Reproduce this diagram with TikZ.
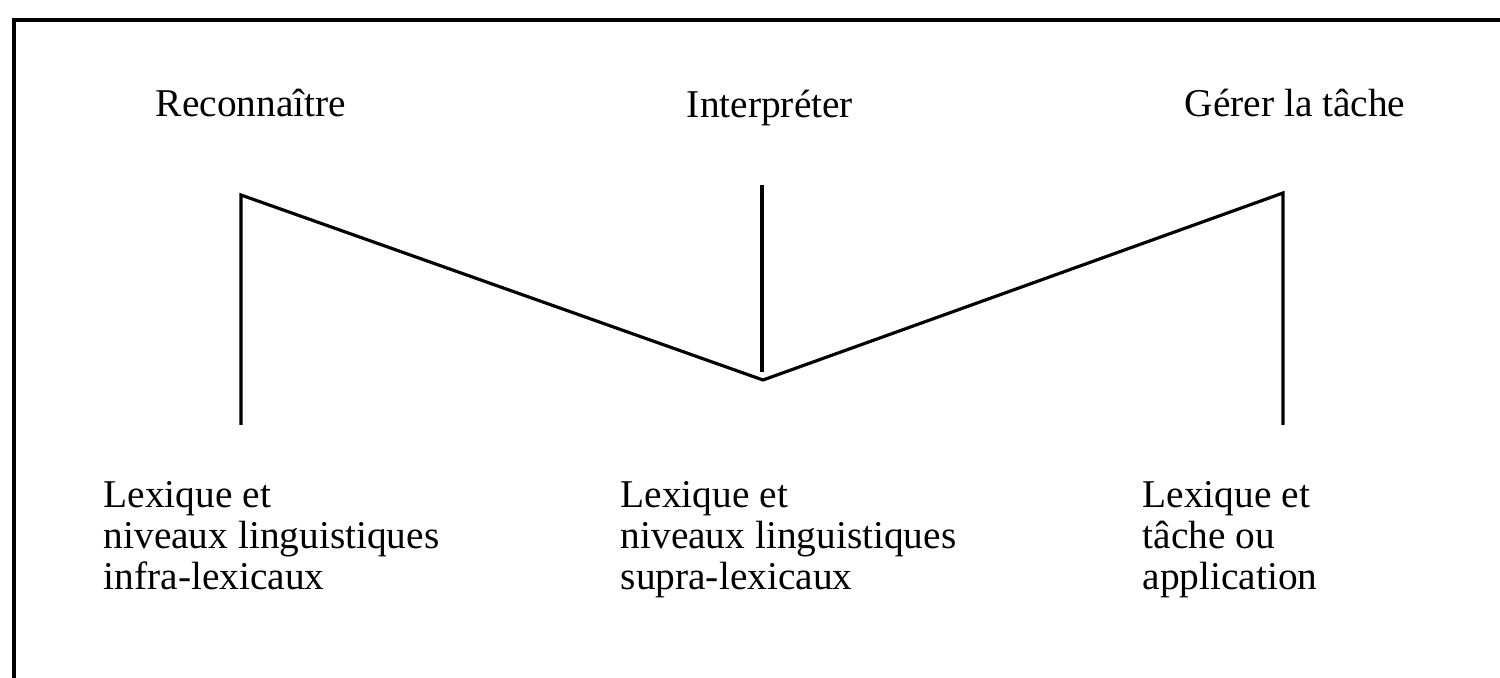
\documentclass[tikz,border=0pt]{standalone}
\usepackage{fontspec}
\setmainfont{Liberation Serif}
\usetikzlibrary{positioning}

\begin{document}
\begin{tikzpicture}[lbl/.style={font=\fontsize{11.2}{11.8}\selectfont, inner sep=0pt},
  blk/.style={lbl, align=left, anchor=base west},
  ln/.style={line width=0.9pt}]
  \useasboundingbox (0,0) rectangle (15,6.78);
  \coordinate (f0) at (0.14,0);
  \coordinate (f1) at (0.14,6.58);
  \coordinate (f2) at (15,6.58);
  \draw[ln] (f0) -- (f1) -- (f2);

  \node[lbl, anchor=base] (rec) at (2.51,5.61) {Reconnaître};
  \node[lbl, anchor=base] (int) at (7.70,5.60) {Interpréter};
  \node[lbl, anchor=base] (ger) at (12.95,5.61) {Gérer la tâche};

  \coordinate (l1) at (2.41,2.53);
  \coordinate (l0) at (2.41,4.83);
  \coordinate (v)  at (7.63,2.98);
  \coordinate (r0) at (12.83,4.85);
  \coordinate (r1) at (12.83,2.53);
  \coordinate (m0) at (7.62,4.93);
  \coordinate (m1) at (7.62,3.06);
  \draw[ln, line join=miter] (l1) -- (l0) -- (v) -- (r0) -- (r1);
  \draw[ln] (m0) -- (m1);

  \node[blk] (lexinf) at (1.03,0.88) {Lexique et\\niveaux linguistiques\\infra-lexicaux};
  \node[blk] (lexsup) at (6.20,0.88) {Lexique et\\niveaux linguistiques\\supra-lexicaux};
  \node[blk] (lexapp) at (11.42,0.88) {Lexique et\\tâche ou\\application};
\end{tikzpicture}
\end{document}
